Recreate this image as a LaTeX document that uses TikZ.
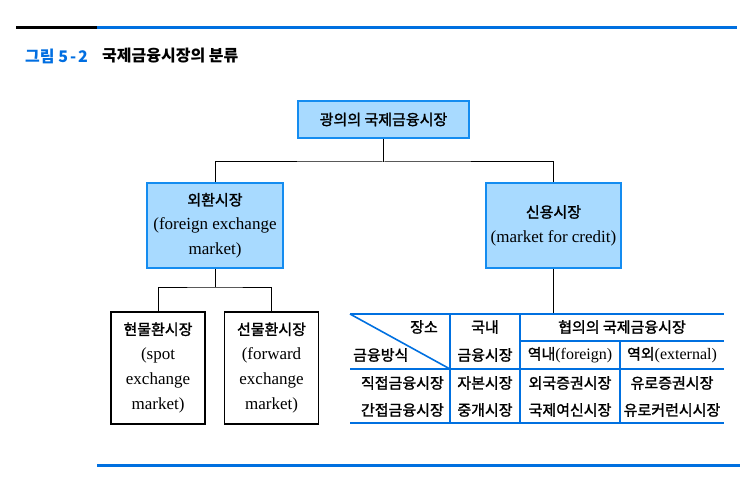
\documentclass[tikz,border=0pt]{standalone}
\usepackage{fontspec}
\setmainfont{Liberation Serif}
\newfontfamily\kr[FakeBold=1.6]{Noto Sans CJK KR}
\newfontfamily\krtitle{Noto Sans CJK KR}
\definecolor{boxfill}{RGB}{168,218,255}
\definecolor{boxline}{RGB}{20,140,240}
\definecolor{rulecol}{RGB}{0,112,224}
\definecolor{titleblue}{RGB}{0,110,225}
\newcommand\eng[1]{{\fontsize{17}{24}\selectfont\rmfamily #1}}
\tikzset{
  bluebox/.style={draw=boxline,fill=boxfill,line width=1.5pt,inner sep=0pt,align=center},
  whitebox/.style={draw=black,line width=1.4pt,inner sep=0pt,align=center,minimum width=94pt,minimum height=112pt},
  link/.style={line width=1pt},
  tline/.style={draw=rulecol,line width=1.6pt},
  cell/.style={inner sep=0pt,font=\fontsize{15}{17}\selectfont\kr}
}
\begin{document}
\begin{tikzpicture}[x=1pt,y=-1pt]
\useasboundingbox (0,0) rectangle (756,492);

% --- header and footer rules ---
\draw[line width=3pt] (16,28) -- (97,28);
\draw[rulecol,line width=3pt] (97,28) -- (737,28);
\draw[rulecol,line width=3pt] (97,465) -- (740,465);
\node[anchor=west,inner sep=0pt,font=\fontsize{16}{18}\selectfont\krtitle\bfseries,text=titleblue] (fignum) at (25,56) {그림 5\hspace{2pt}-\hspace{2pt}2};
\node[anchor=west,inner sep=0pt,font=\fontsize{16}{18}\selectfont\krtitle\bfseries] (title) at (102,56) {국제금융시장의 분류};

% --- tree boxes ---
\node[bluebox,minimum width=171pt,minimum height=37pt,font=\fontsize{15}{17}\selectfont\kr] (broad) at (383.5,119.5) {광의의 국제금융시장};
\node[bluebox,minimum width=136pt,minimum height=85pt,font=\fontsize{15}{24.5}\selectfont] (fx) at (215,225.5)
  {{\kr 외환시장}\\\eng{(foreign exchange}\\\eng{market)}};
\node[bluebox,minimum width=135pt,minimum height=85pt,font=\fontsize{15}{24.5}\selectfont] (credit) at (553.5,225.5)
  {{\kr 신용시장}\\\eng{(market for credit)}};
\node[whitebox,font=\fontsize{15}{25}\selectfont] (spot) at (158,368)
  {{\kr 현물환시장}\\\eng{(spot}\\\eng{exchange}\\\eng{market)}};
\node[whitebox,font=\fontsize{15}{25}\selectfont] (fwd) at (271.5,368)
  {{\kr 선물환시장}\\\eng{(forward}\\\eng{exchange}\\\eng{market)}};

% --- connectors ---
\coordinate (forkA) at (383.5,162);
\coordinate (forkB) at (215,287);
\coordinate (tabtop) at (553.5,314);
\draw[link] (broad.south) -- (forkA);
\draw[link] (fx.north) |- (forkA) -| (credit.north);
\draw[link] (fx.south) -- (forkB);
\draw[link] (spot.north) |- (forkB) -| (fwd.north);
\draw[link] (credit.south) -- (tabtop);

% --- credit market table ---
\draw[tline] (350,314) -- (724,314);
\draw[tline] (520,341) -- (724,341);
\draw[tline] (350,369) -- (724,369);
\draw[tline] (350,423) -- (724,423);
\draw[tline] (450,314) -- (450,423);
\draw[tline] (520,314) -- (520,423);
\draw[tline] (620,341) -- (620,423);
\draw[tline] (350,314) -- (450,369);

\node[cell,anchor=east] (place) at (438,327) {장소};
\node[cell,anchor=west] (method) at (353,355) {금융방식};
\node[cell] (dom1) at (485,327) {국내};
\node[cell] (dom2) at (485,355) {금융시장};
\node[cell] (narrow) at (622,327) {협의의 국제금융시장};
\node[cell] (onshore) at (570,355) {역내{\fontsize{16}{17}\selectfont\rmfamily(foreign)}};
\node[cell] (offshore) at (672,355) {역외{\fontsize{16}{17}\selectfont\rmfamily(external)}};
\node[cell,anchor=east] (direct) at (444,383) {직접금융시장};
\node[cell,anchor=east] (indirect) at (444,410) {간접금융시장};
\node[cell] (capital) at (485,383) {자본시장};
\node[cell] (broker) at (485,410) {중개시장};
\node[cell] (fbond) at (570,383) {외국증권시장};
\node[cell] (loan) at (570,410) {국제여신시장};
\node[cell] (ebond) at (672,383) {유로증권시장};
\node[cell] (ecur) at (672,410) {유로커런시시장};
\end{tikzpicture}
\end{document}
